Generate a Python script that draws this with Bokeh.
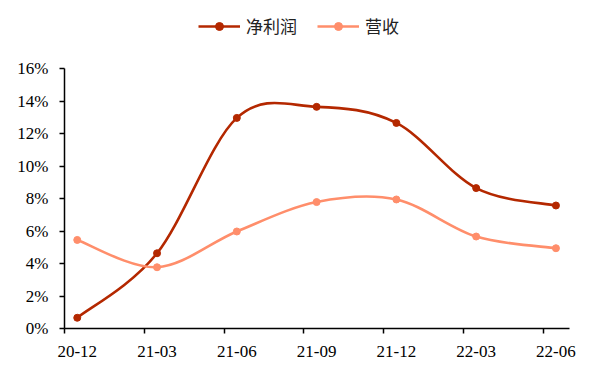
from bokeh.plotting import figure
from bokeh.layouts import column
from bokeh.models import ColumnDataSource, Legend, LegendItem, FixedTicker, Range1d, CustomJSTickFormatter
from bokeh.embed import file_html
from bokeh.resources import INLINE

periods = ["20-12", "21-03", "21-06", "21-09", "21-12", "22-03", "22-06"]
net_profit = [0.66, 4.63, 12.96, 13.64, 12.65, 8.64, 7.57]
revenue = [5.45, 3.77, 5.97, 7.78, 7.94, 5.66, 4.94]
y_ticks = [0, 2, 4, 6, 8, 10, 12, 14, 16]
series_names = ["净利润", "营收"]

C_NET = "#B42800"
C_REV = "#FF8E6B"
OFFSET = 0.16
LW = 2.6
MS = 7

xs = [i + OFFSET for i in range(len(periods))]
boundaries = list(range(len(periods)))


def bezier_source(x, y):
    n = len(x)
    d = dict(x0=[], y0=[], x1=[], y1=[], cx0=[], cy0=[], cx1=[], cy1=[])
    for i in range(n - 1):
        xp, yp = (x[i - 1], y[i - 1]) if i > 0 else (x[i], y[i])
        xn, yn = (x[i + 2], y[i + 2]) if i + 2 < n else (x[i + 1], y[i + 1])
        d["x0"].append(x[i]); d["y0"].append(y[i])
        d["x1"].append(x[i + 1]); d["y1"].append(y[i + 1])
        d["cx0"].append(x[i] + (x[i + 1] - xp) / 6)
        d["cy0"].append(y[i] + (y[i + 1] - yp) / 6)
        d["cx1"].append(x[i + 1] - (xn - x[i]) / 6)
        d["cy1"].append(y[i + 1] - (yn - y[i]) / 6)
    return ColumnDataSource(d)


# ---- legend strip (series drawn off-range so only the legend shows) ----
lg = figure(width=593, height=52, output_backend="svg", toolbar_location=None,
            x_axis_type=None, y_axis_type=None, min_border=0,
            x_range=Range1d(-20, -19), y_range=Range1d(-20, -19))
lg.outline_line_color = None
lg.grid.grid_line_color = None
la = lg.line(xs, net_profit, line_color=C_NET, line_width=LW)
lb = lg.scatter(xs, net_profit, size=MS, color=C_NET)
lc = lg.line(xs, revenue, line_color=C_REV, line_width=LW)
ld = lg.scatter(xs, revenue, size=MS, color=C_REV)
legend = Legend(items=[LegendItem(label=series_names[0], renderers=[la, lb], index=0),
                       LegendItem(label=series_names[1], renderers=[lc, ld], index=0)],
                orientation="horizontal", location=(134, 14),
                label_text_font="Noto Sans CJK SC", label_text_font_size="17px",
                label_text_color="#222222",
                glyph_width=42, glyph_height=20, label_height=20, label_standoff=6, spacing=20,
                padding=0, margin=0, border_line_color=None, background_fill_alpha=0)
lg.add_layout(legend, "center")

# ---- main chart ----
p = figure(width=593, height=321, output_backend="svg", toolbar_location=None,
           x_range=Range1d(0, 6.33), y_range=Range1d(0, 16),
           min_border_left=64, min_border_right=24, min_border_top=16, min_border_bottom=45)
p.outline_line_color = None
p.grid.grid_line_color = None

p.bezier(x0="x0", y0="y0", x1="x1", y1="y1", cx0="cx0", cy0="cy0", cx1="cx1", cy1="cy1",
         source=bezier_source(xs, net_profit), line_color=C_NET, line_width=LW)
p.scatter(xs, net_profit, size=MS, color=C_NET)
p.bezier(x0="x0", y0="y0", x1="x1", y1="y1", cx0="cx0", cy0="cy0", cx1="cx1", cy1="cy1",
         source=bezier_source(xs, revenue), line_color=C_REV, line_width=LW)
p.scatter(xs, revenue, size=MS, color=C_REV)

# labels centred under the points, tick marks at the period boundaries
p.xaxis.ticker = FixedTicker(ticks=xs, minor_ticks=boundaries)
p.xaxis.major_label_overrides = {x: lab for x, lab in zip(xs, periods)}
p.yaxis.ticker = FixedTicker(ticks=y_ticks)
p.yaxis.formatter = CustomJSTickFormatter(code="return tick + '%';")
for ax in (p.xaxis, p.yaxis):
    ax.axis_line_color = "black"
    ax.axis_line_width = 1.5
    ax.major_tick_line_color = "black"
    ax.major_tick_line_width = 1.5
    ax.major_tick_out = 5
    ax.major_tick_in = 0
    ax.minor_tick_line_color = None
    ax.major_label_text_font = "Liberation Serif"
    ax.major_label_text_font_size = "17px"
    ax.major_label_text_color = "black"
p.xaxis.major_tick_line_color = None
p.xaxis.major_tick_out = 0
p.xaxis.minor_tick_line_color = "black"
p.xaxis.minor_tick_line_width = 1.5
p.xaxis.minor_tick_out = 5
p.xaxis.minor_tick_in = 0
p.yaxis.major_label_standoff = 11
p.xaxis.major_label_standoff = 12

layout = column(lg, p, spacing=0)
open("out.html", "w").write(file_html(layout, INLINE))
